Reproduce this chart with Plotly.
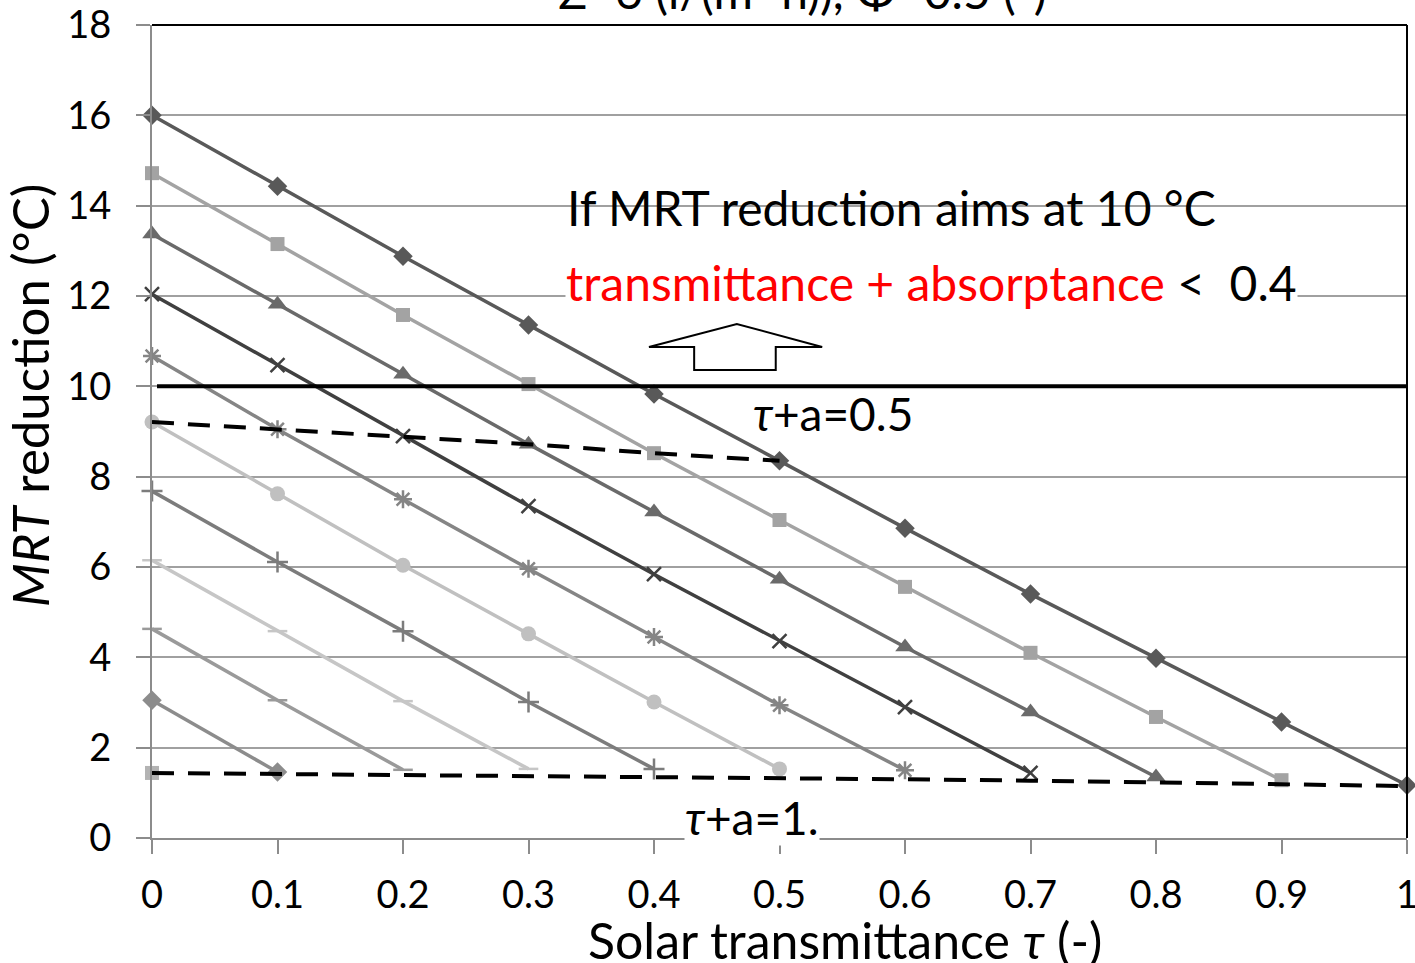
import plotly.graph_objects as go

# Solar transmittance tau (x) and MRT reduction (°C) for each solar absorptance a
tau = [0.0, 0.1, 0.2, 0.3, 0.4, 0.5, 0.6, 0.7, 0.8, 0.9, 1.0]

mrt_a00 = [16.00, 14.43, 12.88, 11.36, 9.83, 8.35, 6.86, 5.40, 3.98, 2.57, 1.17]
mrt_a01 = [14.72, 13.15, 11.58, 10.05, 8.52, 7.04, 5.56, 4.10, 2.68, 1.28]
mrt_a02 = [13.37, 11.82, 10.27, 8.72, 7.22, 5.73, 4.23, 2.79, 1.35]
mrt_a03 = [12.04, 10.47, 8.90, 7.35, 5.84, 4.36, 2.90, 1.44]
mrt_a04 = [10.67, 9.05, 7.50, 5.96, 4.45, 2.94, 1.50]
mrt_a05 = [9.21, 7.62, 6.04, 4.52, 3.01, 1.53]
mrt_a06 = [7.68, 6.11, 4.58, 3.01, 1.53]
mrt_a07 = [6.15, 4.58, 3.03, 1.53]
mrt_a08 = [4.63, 3.05, 1.51]
mrt_a09 = [3.05, 1.46]
mrt_a10 = [1.44]

# Iso-lines of tau + a
tau_a_05 = [9.21, 9.05, 8.90, 8.72, 8.52, 8.35]
tau_a_1 = [1.44, 1.42, 1.40, 1.38, 1.36, 1.33, 1.30, 1.27, 1.23, 1.19, 1.15]

target_mrt = 10

x_ticks = [0, 0.1, 0.2, 0.3, 0.4, 0.5, 0.6, 0.7, 0.8, 0.9, 1]
x_tick_text = ["0", "0.1", "0.2", "0.3", "0.4", "0.5", "0.6", "0.7", "0.8", "0.9", "1"]
y_ticks = [0, 2, 4, 6, 8, 10, 12, 14, 16, 18]

FONT = "Lato"
TXT = 48

series = [
    ("a=0", mrt_a00, "#595959", "diamond", 15),
    ("a=0.1", mrt_a01, "#a3a3a3", "square", 14),
    ("a=0.2", mrt_a02, "#6a6a6a", "triangle-up", 17),
    ("a=0.3", mrt_a03, "#404040", "x-thin-open", 14),
    ("a=0.4", mrt_a04, "#858585", "asterisk-open", 15),
    ("a=0.5", mrt_a05, "#c0c0c0", "circle", 15),
    ("a=0.6", mrt_a06, "#7c7c7c", "cross-thin-open", 15),
    ("a=0.7", mrt_a07, "#c6c6c6", "line-ew-open", 14),
    ("a=0.8", mrt_a08, "#9a9a9a", "line-ew-open", 14),
    ("a=0.9", mrt_a09, "#8c8c8c", "diamond", 15),
    ("a=1", mrt_a10, "#b3b3b3", "square", 14),
]

fig = go.Figure()

for name, vals, color, symbol, size in series:
    open_sym = symbol.endswith("-open")
    fig.add_trace(go.Scatter(
        x=tau[:len(vals)], y=vals, name=name, mode="lines+markers",
        line=dict(color=color, width=3.5),
        marker=dict(symbol=symbol, size=size, color=color,
                    line=dict(color=color, width=2.5 if open_sym else 0)),
        cliponaxis=False, showlegend=False,
    ))

for iso in (tau_a_05, tau_a_1):
    fig.add_trace(go.Scatter(
        x=tau[:len(iso)], y=iso, mode="lines",
        line=dict(color="black", width=4, dash="22px,14px"),
        cliponaxis=False, showlegend=False,
    ))

shapes = [
    # target reduction line
    dict(type="line", xref="x", yref="y", x0=0.004, x1=1, y0=target_mrt, y1=target_mrt,
         line=dict(color="black", width=4)),
    # top and right frame
    dict(type="line", xref="paper", yref="paper", x0=0, x1=1, y0=1, y1=1,
         line=dict(color="black", width=2)),
    dict(type="line", xref="paper", yref="paper", x0=1, x1=1, y0=0, y1=1,
         line=dict(color="black", width=2)),
    # hollow upward arrow
    dict(type="path", xref="x", yref="y",
         path="M 0.432,10.36 L 0.432,10.87 L 0.396,10.87 L 0.466,11.38 "
              "L 0.534,10.87 L 0.497,10.87 L 0.497,10.36 Z",
         line=dict(color="black", width=2), fillcolor="white"),
]

annotations = [
    dict(text="Σ=6 (l/(m² h)), Φ=0.5 (-)", xref="paper", yref="paper",
         x=0.518, y=1.042, xanchor="center", yanchor="middle", showarrow=False,
         font=dict(family=FONT, size=TXT, color="black")),
    dict(text="If MRT reduction aims at 10 °C", xref="x", yref="y",
         x=0.329, y=13.95, xanchor="left", yanchor="middle", showarrow=False,
         font=dict(family=FONT, size=TXT, color="black")),
    dict(text="<span style='color:red'>transmittance + absorptance</span> <  0.4",
         xref="x", yref="y", x=0.329, y=12.29, xanchor="left", yanchor="middle",
         showarrow=False, bgcolor="white", borderpad=0,
         font=dict(family=FONT, size=TXT, color="black")),
    dict(text="<i>τ</i>+a=0.5", xref="x", yref="y", x=0.543, y=9.39,
         xanchor="center", yanchor="middle", showarrow=False,
         font=dict(family=FONT, size=TXT - 2, color="black")),
    dict(text="<i>τ</i>+a=1.", xref="x", yref="y", x=0.478, y=0.46,
         xanchor="center", yanchor="middle", showarrow=False, bgcolor="white",
         borderpad=0, font=dict(family=FONT, size=TXT - 2, color="black")),
    dict(text="Solar transmittance <i>τ</i> (-)", xref="paper", yref="paper",
         x=0.552, y=-0.125, xanchor="center", yanchor="middle", showarrow=False,
         bgcolor="white", borderpad=1,
         font=dict(family=FONT, size=50, color="black")),
    dict(text="<i>MRT</i> reduction (°C)", xref="paper", yref="paper",
         x=-0.097, y=0.545, xanchor="center", yanchor="middle", textangle=-90,
         showarrow=False, font=dict(family=FONT, size=51, color="black")),
]

fig.update_layout(
    width=1415, height=963,
    margin=dict(l=152, r=8, t=25, b=125, autoexpand=False),
    paper_bgcolor="white", plot_bgcolor="white",
    shapes=shapes, annotations=annotations,
    xaxis=dict(
        range=[0, 1], tickvals=x_ticks, ticktext=x_tick_text,
        showgrid=False, zeroline=False, automargin=False,
        showline=True, linecolor="#8c8c8c", linewidth=2,
        ticks="outside", ticklen=14, tickwidth=2, tickcolor="#8c8c8c",
        tickfont=dict(family=FONT, size=38, color="black"),
        ticklabelstandoff=8, ticklabeloverflow="allow",
    ),
    yaxis=dict(
        range=[0, 18], tickvals=y_ticks,
        showgrid=True, gridcolor="#a0a0a0", gridwidth=2, zeroline=False,
        automargin=False,
        showline=True, linecolor="#8c8c8c", linewidth=2,
        ticks="outside", ticklen=14, tickwidth=2, tickcolor="#8c8c8c",
        tickfont=dict(family=FONT, size=38, color="black"),
        ticklabelstandoff=17, ticklabeloverflow="allow",
    ),
)

fig.write_html("out.html")
